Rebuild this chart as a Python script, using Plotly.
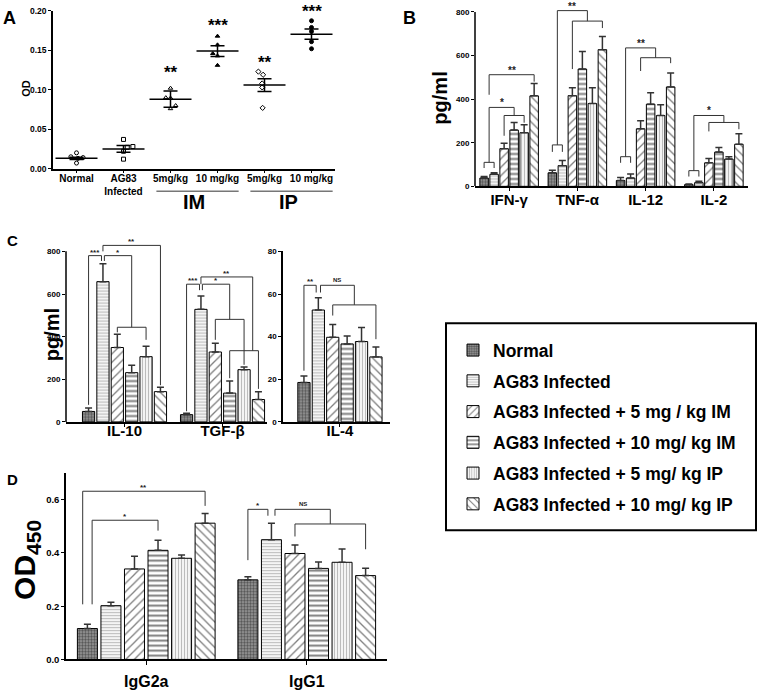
import plotly.graph_objects as go

W, H = 759, 693
def px(x): return x / W
def py(y): return 1 - y / H

FONT = "Liberation Sans, Arial, sans-serif"
BARGAP = 0.12
BARGROUPGAP = 0.15
SLOT = (1 - BARGAP) / 6

# ---------------- DATA ----------------
# Panel A (OD per animal, means and SEM)
A_labels = ["Normal", "AG83<br>Infected", "5mg/kg", "10 mg/kg", "5mg/kg", "10 mg/kg"]
A_normal = [0.020, 0.015, 0.014, 0.013, 0.007]
A_ag83 = [0.037, 0.028, 0.027, 0.022, 0.012]
A_im5 = [0.102, 0.090, 0.0895, 0.080, 0.076]
A_im10 = [0.168, 0.157, 0.146, 0.143, 0.131]
A_ip5 = [0.123, 0.119, 0.108, 0.103, 0.077]
A_ip10 = [0.1875, 0.179, 0.174, 0.161, 0.152]
A_means = [0.013, 0.025, 0.088, 0.149, 0.106, 0.1705]
A_sem = [0.0015, 0.0042, 0.0103, 0.0068, 0.0081, 0.0066]
A_stars = ["", "", "**", "***", "**", "***"]
A_star_y = [None, None, 0.122, 0.181, 0.135, 0.199]

series_names = ["Normal", "AG83 Infected", "AG83 Infected + 5 mg / kg IM",
                "AG83 Infected + 10 mg/ kg IM", "AG83 Infected + 5 mg/ kg IP",
                "AG83 Infected + 10 mg/ kg IP"]

# Panel B (pg/ml), order of values follows series_names
B_categories = ["IFN-γ", "TNF-α", "IL-12", "IL-2"]
B_ifn = [38, 55, 173, 258, 246, 415]
B_ifn_err = [7, 7, 25, 35, 37, 57]
B_tnf = [62, 95, 416, 538, 380, 627]
B_tnf_err = [12, 23, 36, 81, 72, 60]
B_il12 = [27, 38, 264, 377, 325, 456]
B_il12_err = [14, 19, 37, 52, 49, 64]
B_il2 = [8, 17, 108, 157, 125, 193]
B_il2_err = [3, 6, 20, 21, 11, 48]

# Panel C (pg/ml)
C_categories = ["IL-10", "TGF-β"]
C_il10 = [49, 658, 349, 231, 306, 142]
C_il10_err = [16, 84, 62, 35, 49, 20]
C_tgf = [34, 528, 328, 135, 245, 105]
C_tgf_err = [6, 63, 41, 57, 13, 37]
C2_categories = ["IL-4"]
C_il4 = [18.5, 52.5, 39.7, 36.6, 37.7, 30.5]
C_il4_err = [3.0, 5.7, 6.0, 3.7, 6.6, 4.6]

# Panel D (OD450)
D_categories = ["IgG2a", "IgG1"]
D_igg2a = [0.116, 0.202, 0.340, 0.410, 0.380, 0.512]
D_igg2a_err = [0.016, 0.013, 0.048, 0.038, 0.012, 0.036]
D_igg1 = [0.299, 0.450, 0.398, 0.342, 0.365, 0.315]
D_igg1_err = [0.012, 0.062, 0.032, 0.024, 0.050, 0.028]

# ---------------- STYLES ----------------
patterns = [
    dict(shape=".", fgcolor="#111111", bgcolor="#9a9a9a", size=3, solidity=0.5),
    dict(shape="-", fgcolor="#7a7a7a", bgcolor="white", size=3, solidity=0.45),
    dict(shape="/", fgcolor="black", bgcolor="white", size=6, solidity=0.22),
    dict(shape="-", fgcolor="black", bgcolor="white", size=5, solidity=0.4),
    dict(shape="|", fgcolor="#7a7a7a", bgcolor="white", size=3, solidity=0.45),
    dict(shape="\\", fgcolor="black", bgcolor="white", size=6, solidity=0.22),
]

fig = go.Figure()

# ---------------- PANEL A ----------------
A_points = [A_normal, A_ag83, A_im5, A_im10, A_ip5, A_ip10]
A_jitter = [[0.0, -0.12, 0.14, 0.03, 0.0],
            [0.0, 0.2, 0.08, 0.0, 0.0],
            [0.0, -0.1, 0.0, 0.11, 0.0],
            [0.0, 0.0, -0.1, 0.0, 0.0],
            [-0.13, -0.03, -0.05, -0.05, -0.04],
            [0.0, 0.0, 0.0, 0.0, 0.0]]
A_symbols = ["circle-open", "square-open", "triangle-up-open", "triangle-up", "diamond-open", "circle"]
for i, pts in enumerate(A_points):
    fig.add_trace(go.Scatter(
        x=[i + j for j in A_jitter[i]], y=pts, mode="markers", xaxis="x", yaxis="y",
        marker=dict(symbol=A_symbols[i], size=4, color="black", line=dict(color="black", width=1)),
        showlegend=False, hoverinfo="skip"))
fig.add_trace(go.Scatter(
    x=list(range(6)), y=A_means, mode="markers", xaxis="x", yaxis="y",
    marker=dict(symbol="line-ew", size=30, color="black", line=dict(color="black", width=1.5)),
    error_y=dict(type="data", array=A_sem, width=7, thickness=1.5, color="black"),
    showlegend=False, hoverinfo="skip"))

# ---------------- BAR PANELS ----------------
def add_bars(xa, ya, cats, vals, errs, legend):
    for i in range(6):
        fig.add_trace(go.Bar(
            x=list(range(len(cats))), y=[v[i] for v in vals],
            error_y=dict(type="data", symmetric=False, array=[e[i] for e in errs],
                         arrayminus=[0] * len(cats), width=3.5, thickness=1.5, color="#333"),
            marker=dict(color="white", pattern=patterns[i], line=dict(color="black", width=1)),
            name=series_names[i], xaxis=xa, yaxis=ya, showlegend=legend,
            legendgroup="g%d" % i, hoverinfo="skip"))

add_bars("x2", "y2", B_categories, [B_ifn, B_tnf, B_il12, B_il2],
         [B_ifn_err, B_tnf_err, B_il12_err, B_il2_err], True)
add_bars("x3", "y3", C_categories, [C_il10, C_tgf], [C_il10_err, C_tgf_err], False)
add_bars("x4", "y4", C2_categories, [C_il4], [C_il4_err], False)
add_bars("x5", "y5", D_categories, [D_igg2a, D_igg1], [D_igg2a_err, D_igg1_err], False)

# ---------------- BRACKETS ----------------
shapes = []
annotations = []

def bx(group, pos):
    return group + (pos - 2.5) * SLOT

def bracket(xa, ya, g, left, right, top, lbot, rbot, color="#333"):
    x0, x1 = bx(g, left), bx(g, right)
    shapes.append(dict(type="path", xref=xa, yref=ya, layer="above",
                       path=f"M {x0},{lbot} L {x0},{top} L {x1},{top} L {x1},{rbot}",
                       line=dict(color=color, width=1)))

def label(xa, ya, g, pos, y, text, size):
    annotations.append(dict(xref=xa, yref=ya, x=bx(g, pos), y=y, text=text, showarrow=False,
                            yanchor="bottom", yshift=-3 if "*" in text else 0,
                            font=dict(size=size, family=FONT, color="#222", weight="bold")))

# Panel B
bracket("x2", "y2", 0, 0, 1, 110, 84, 84)
bracket("x2", "y2", 0, 2, 4, 325, 232, 292)
bracket("x2", "y2", 0, 0.5, 3, 362, 110, 325)
bracket("x2", "y2", 0, 0.5, 5, 512, 420, 480)
label("x2", "y2", 0, 1.75, 362, "*", 10)
label("x2", "y2", 0, 2.75, 512, "**", 10)
bracket("x2", "y2", 1, 0, 1, 190, 158, 158)
bracket("x2", "y2", 1, 2, 5, 758, 538, 726)
bracket("x2", "y2", 1, 0.5, 3.5, 806, 190, 758)
label("x2", "y2", 1, 2.0, 806, "**", 10)
bracket("x2", "y2", 2, 0, 1, 136, 108, 108)
bracket("x2", "y2", 2, 2, 5, 590, 529, 565)
bracket("x2", "y2", 2, 0.5, 3.5, 635, 136, 590)
label("x2", "y2", 2, 2.0, 635, "**", 10)
bracket("x2", "y2", 3, 0, 1, 72, 45, 45)
bracket("x2", "y2", 3, 2, 5, 293, 252, 262)
bracket("x2", "y2", 3, 0.5, 3.5, 325, 72, 293)
label("x2", "y2", 3, 2.0, 325, "*", 10)

# Panel C left
bracket("x3", "y3", 0, 0, 0.9, 780, 80, 755)
bracket("x3", "y3", 0, 1.1, 3, 780, 755, 444)
bracket("x3", "y3", 0, 2, 4, 444, 420, 385)
bracket("x3", "y3", 0, 1, 5, 828, 800, 172)
label("x3", "y3", 0, 0.45, 780, "***", 8)
label("x3", "y3", 0, 2.05, 780, "*", 8)
label("x3", "y3", 0, 3.0, 828, "**", 8)
bracket("x3", "y3", 1, 0, 0.9, 646, 50, 618)
bracket("x3", "y3", 1, 1.1, 3, 646, 618, 481)
bracket("x3", "y3", 1, 2, 4, 481, 385, 268)
bracket("x3", "y3", 1, 1, 4.6, 680, 646, 334)
bracket("x3", "y3", 1, 3, 5, 334, 205, 155)
label("x3", "y3", 1, 0.45, 646, "***", 8)
label("x3", "y3", 1, 2.05, 646, "*", 8)
label("x3", "y3", 1, 2.8, 680, "**", 8)

# Panel C right
bracket("x4", "y4", 0, 0, 0.85, 64.1, 24, 60.7)
bracket("x4", "y4", 0, 1.15, 3.5, 64.1, 60.7, 54.9)
bracket("x4", "y4", 0, 2, 5, 54.9, 49.9, 38.8)
label("x4", "y4", 0, 0.43, 64.1, "**", 8)
label("x4", "y4", 0, 2.3, 64.1, "NS", 6)

# Panel D
bracket("x5", "y5", 0, -0.2, 5, 0.632, 0.207, 0.577)
bracket("x5", "y5", 0, 0.2, 3, 0.523, 0.207, 0.484)
label("x5", "y5", 0, 2.4, 0.632, "**", 8)
label("x5", "y5", 0, 1.6, 0.523, "*", 8)
bracket("x5", "y5", 1, 0, 0.85, 0.564, 0.373, 0.540)
bracket("x5", "y5", 1, 1.15, 3.5, 0.564, 0.540, 0.509)
bracket("x5", "y5", 1, 2, 5, 0.509, 0.462, 0.414)
label("x5", "y5", 1, 0.43, 0.564, "*", 8)
label("x5", "y5", 1, 2.33, 0.564, "NS", 6)

# manual y-axis lines where the range is extended for brackets
shapes.append(dict(type="line", xref="x2 domain", yref="y2", x0=0, x1=0, y0=0, y1=800,
                   line=dict(color="black", width=1.5)))
shapes.append(dict(type="line", xref="x3 domain", yref="y3", x0=0, x1=0, y0=0, y1=800,
                   line=dict(color="black", width=1.5)))

# legend frame
shapes.append(dict(type="rect", xref="paper", yref="paper", x0=px(446), x1=px(756),
                   y0=py(533), y1=py(323), line=dict(color="black", width=2)))

# Panel A: stars, group lines and IM / IP labels
for i, s in enumerate(A_stars):
    if s:
        annotations.append(dict(xref="x", yref="y", x=i, y=A_star_y[i], text=s, showarrow=False,
                                yanchor="middle", font=dict(size=17, family=FONT, color="black", weight="bold")))
for x0, x1, t, xc in [(1.7, 3.45, "IM", 2.5), (3.7, 5.45, "IP", 4.5)]:
    shapes.append(dict(type="line", xref="x", yref="paper", x0=x0, x1=x1, y0=py(189), y1=py(189),
                       line=dict(color="#777", width=1.5)))
    annotations.append(dict(xref="x", yref="paper", x=xc, y=py(200), text=t, showarrow=False,
                            yanchor="middle",
                            font=dict(size=20, family=FONT, color="black", weight="bold")))

# Axis titles and panel letters
def paper_text(x, y, text, size, angle=0, xanchor="center", yanchor="middle"):
    annotations.append(dict(xref="paper", yref="paper", x=px(x), y=py(y), text=text, showarrow=False,
                            textangle=angle, xanchor=xanchor, yanchor=yanchor,
                            font=dict(size=size, family=FONT, color="black", weight="bold")))

paper_text(26, 85, "OD", 11, -90)
paper_text(440, 95, "pg/ml", 20, -90)
paper_text(52, 335, "pg/ml", 20, -90)
paper_text(27, 563, "OD<sub>450</sub>", 30, -90)
paper_text(1, 1, "A", 18, xanchor="left", yanchor="top")
paper_text(401, 1, "B", 18, xanchor="left", yanchor="top")
paper_text(5, 228, "C", 15, xanchor="left", yanchor="top")
paper_text(5, 471, "D", 15, xanchor="left", yanchor="top")

# ---------------- AXES ----------------
def xax(d0, d1, rng, cats, anchor, size, ticklen=3, standoff=0):
    return dict(domain=[px(d0), px(d1)], range=rng, anchor=anchor, showgrid=False, zeroline=False,
                showline=True, linecolor="black", linewidth=1.5, ticks="outside", ticklen=ticklen,
                tickwidth=1, tickcolor="black", tickvals=list(range(len(cats))), ticktext=cats,
                ticklabelstandoff=standoff,
                tickfont=dict(size=size, family=FONT, color="black", weight="bold"), fixedrange=True)

def yax(top, bottom, rng, vals, texts, anchor, size, showline=True):
    return dict(domain=[py(bottom), py(top)], range=rng, anchor=anchor, showgrid=False, zeroline=False,
                showline=showline, linecolor="black", linewidth=1.5, ticks="outside", ticklen=3,
                tickwidth=1, tickcolor="black", tickvals=vals, ticktext=texts,
                tickfont=dict(size=size, family=FONT, color="black", weight="bold"), fixedrange=True)

fig.update_layout(
    width=W, height=H, margin=dict(l=0, r=0, t=0, b=0),
    paper_bgcolor="white", plot_bgcolor="white",
    font=dict(family=FONT, color="black"),
    barmode="group", bargap=BARGAP, bargroupgap=BARGROUPGAP,
    xaxis=xax(53, 335, [-0.5, 5.5], A_labels, "y", 10, standoff=-3),
    yaxis=yax(6, 166, [0, 0.2], [0, 0.05, 0.10, 0.15, 0.20],
              ["0.00", "0.05", "0.10", "0.15", "0.20"], "x", 8.5),
    xaxis2=xax(475, 748, [-0.5, 3.5], B_categories, "y2", 15, ticklen=3, standoff=-4),
    yaxis2=yax(1.5, 184, [0, 825], [0, 200, 400, 600, 800], ["0", "200", "400", "600", "800"],
               "x2", 8, showline=False),
    xaxis3=xax(66, 267, [-0.597, 1.454], C_categories, "y3", 15, ticklen=3, standoff=-9),
    yaxis3=yax(237, 423, [0, 860], [0, 200, 400, 600, 800], ["0", "200", "400", "600", "800"],
               "x3", 8, showline=False),
    xaxis4=xax(283, 390, [-0.58, 0.51], C2_categories, "y4", 15, ticklen=3, standoff=-9),
    yaxis4=yax(250, 423, [0, 80], [0, 20, 40, 60, 80], ["0", "20", "40", "60", "80"], "x4", 8),
    xaxis5=xax(66, 387, [-0.5, 1.5], D_categories, "y5", 16, ticklen=4, standoff=3),
    yaxis5=yax(475, 664, [0, 0.7], [0, 0.2, 0.4, 0.6], ["0.0", "0.2", "0.4", "0.6"], "x5", 9.5),
    legend=dict(x=px(453), y=py(332), xanchor="left", yanchor="top",
                borderwidth=0, bgcolor="rgba(0,0,0,0)",
                font=dict(size=17.5, family=FONT, color="black", weight="bold"),
                traceorder="grouped", tracegroupgap=5, itemclick=False, itemdoubleclick=False),
    shapes=shapes, annotations=annotations,
)

fig.write_html("out.html", config={"displayModeBar": False},
               post_script="document.body.style.margin='0px';")
